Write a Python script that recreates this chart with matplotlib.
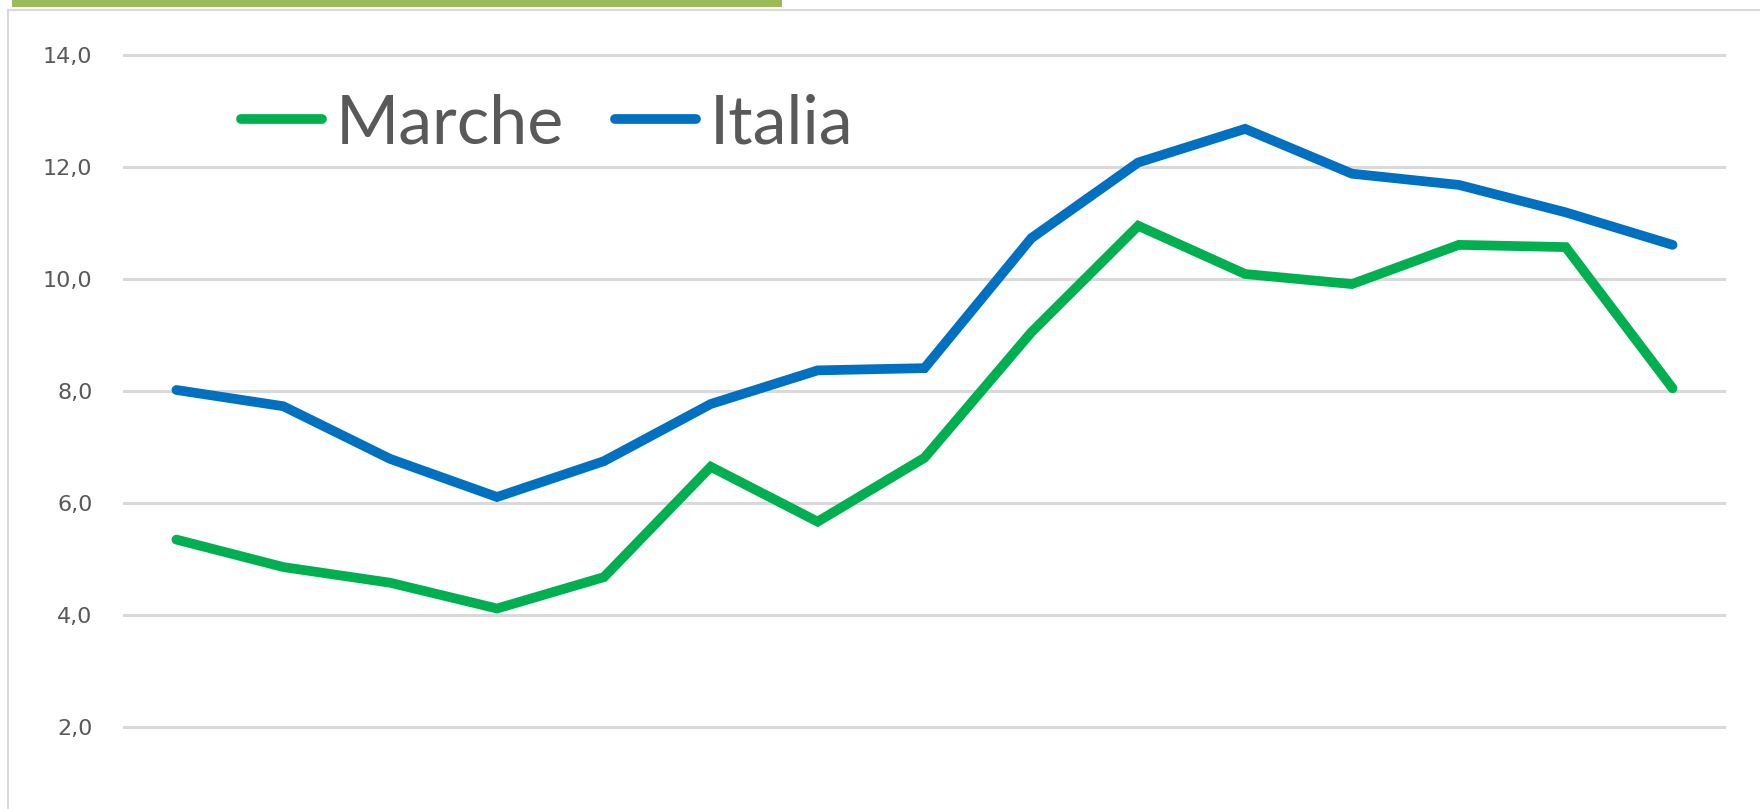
import matplotlib
matplotlib.use("Agg")
import matplotlib.pyplot as plt
from matplotlib.patches import Rectangle
from matplotlib.lines import Line2D

# values (15 periods, no category labels shown)
marche = [5.35, 4.86, 4.58, 4.12, 4.68, 6.65, 5.67, 6.81, 9.05, 10.95,
          10.09, 9.91, 10.61, 10.57, 8.05]
italia = [8.02, 7.73, 6.79, 6.11, 6.75, 7.77, 8.37, 8.41, 10.73, 12.08,
          12.68, 11.88, 11.68, 11.19, 10.61]
yticks = [2, 4, 6, 8, 10, 12, 14]
ytick_labels = ["2,0", "4,0", "6,0", "8,0", "10,0", "12,0", "14,0"]

W, H = 1760, 809
fig = plt.figure(figsize=(W / 100, H / 100), dpi=100)

# frame of the chart area and green accent bar on top
fig.add_artist(Line2D([8 / W, 1], [1 - 10 / H, 1 - 10 / H], color="#d9d9d9", lw=1.5))
fig.add_artist(Line2D([8 / W, 8 / W], [0, 1 - 10 / H], color="#d9d9d9", lw=1.5))
fig.add_artist(Rectangle((12 / W, 1 - 7 / H), 770 / W, 7 / H, color="#9bbb59", lw=0))

ax = fig.add_axes([123 / W, 0, 1603 / W, 1])
x = list(range(len(marche)))
ax.plot(x, marche, color="#00b050", lw=7, solid_capstyle="round",
        solid_joinstyle="miter", label="Marche", zorder=3)
ax.plot(x, italia, color="#0070c0", lw=7, solid_capstyle="round",
        solid_joinstyle="miter", label="Italia", zorder=3)

ax.set_xlim(-0.5, len(marche) - 0.5)
ax.set_ylim(0.542, 14.98)
ax.set_yticks(yticks)
ax.set_yticklabels(ytick_labels, color="#595959", fontsize=16)
ax.set_xticks([])
ax.tick_params(axis="y", length=0, pad=22)
ax.grid(axis="y", color="#d9d9d9", lw=2.2)
ax.set_axisbelow(True)
for s in ax.spines.values():
    s.set_visible(False)
ax.patch.set_alpha(0)

leg = fig.legend(loc="center left", bbox_to_anchor=(241 / W, 1 - 124 / H),
                 ncol=2, frameon=False, borderpad=0, borderaxespad=0,
                 handlelength=1.19, handletextpad=0.2, columnspacing=0.75,
                 prop={"family": "Lato", "size": 49})
for t in leg.get_texts():
    t.set_color("#595959")

fig.savefig("out.png", dpi=100)
